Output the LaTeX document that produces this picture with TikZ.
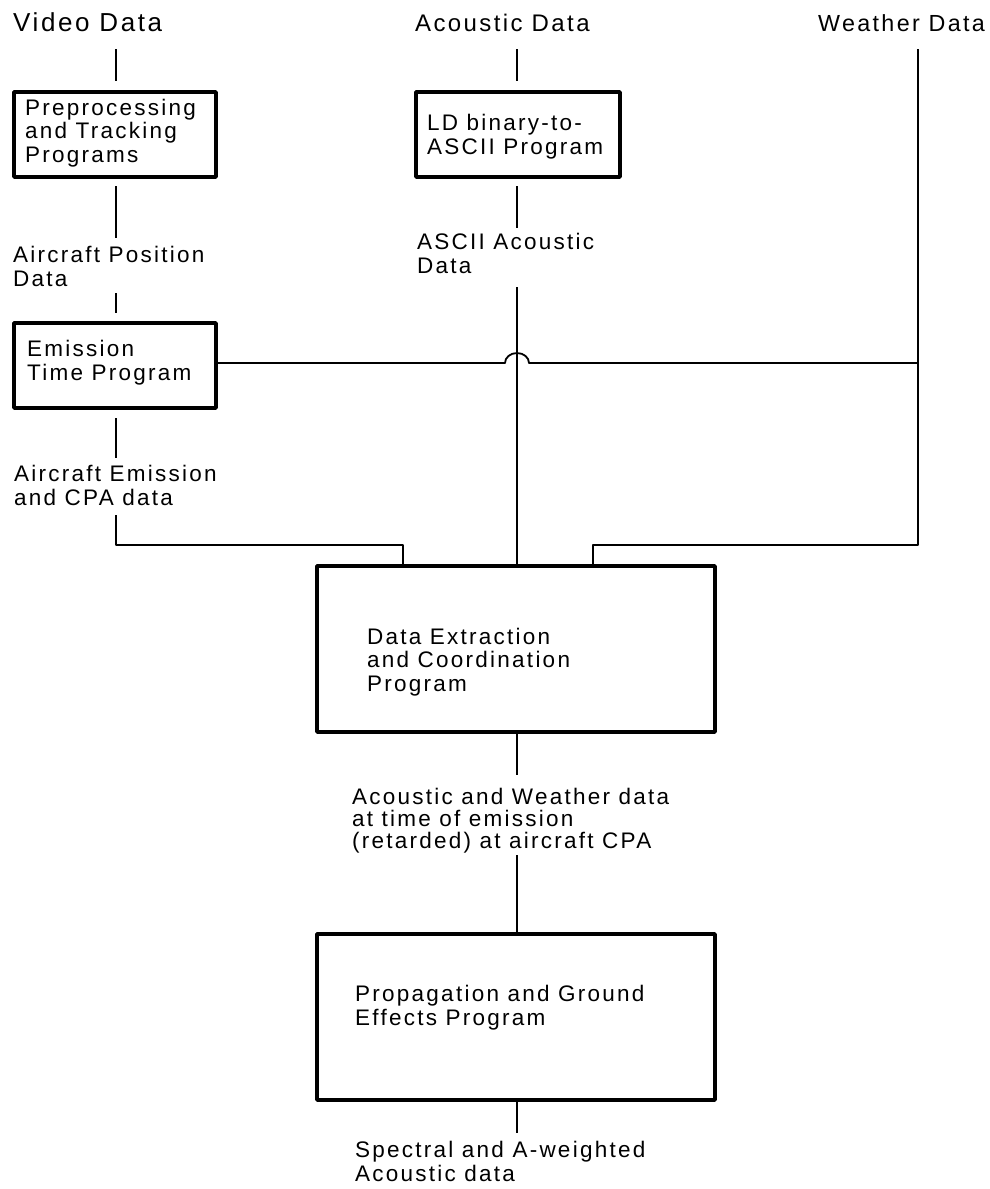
\documentclass[tikz,border=0pt]{standalone}
\usepackage{fontspec}
\setmainfont{Liberation Sans}[LetterSpace=10]
\begin{document}
\begin{tikzpicture}[x=1pt,y=-1pt,line join=round,
  box/.style={draw,line width=3.5pt,inner sep=0,rectangle},
  txt/.style={anchor=base west,inner sep=0,align=left,font=\fontsize{22.5}{23.5}\selectfont},
  head/.style={txt,font=\fontsize{24}{26}\selectfont},
  wire/.style={line width=1.8pt}]
\useasboundingbox (0,0) rectangle (989,1189);
% top labels
\node[head,font=\fontsize{26}{28}\selectfont] (vid) at (13,31) {Video Data};
\node[head] (aco) at (415,31) {Acoustic Data};
\node[head,font=\fontsize{23.3}{26}\selectfont] (wea) at (818,31) {Weather Data};
% boxes
\node[box,minimum width=202pt,minimum height=85pt] (pre) at (115,134.5) {};
\node[box,minimum width=204pt,minimum height=85pt] (ldb) at (518,134.5) {};
\node[box,minimum width=202pt,minimum height=85pt] (emi) at (115,365.5) {};
\node[box,minimum width=398pt,minimum height=166pt] (dec) at (516,649) {};
\node[box,minimum width=398pt,minimum height=166pt] (pge) at (516,1017) {};
% box texts (anchor at baseline of last line)
\node[txt] (preT) at (25,162) {Preprocessing\\and Tracking\\Programs};
\node[txt] (ldbT) at (427,154) {LD binary-to-\\ASCII Program};
\node[txt] (emiT) at (27,380) {Emission\\Time Program};
\node[txt] (decT) at (367,691) {Data Extraction\\and Coordination\\Program};
\node[txt] (pgeT) at (355,1025) {Propagation and Ground\\Effects Program};
% data labels
\node[txt] (apos) at (13,286) {Aircraft Position\\Data};
\node[txt] (asc) at (417,273) {ASCII Acoustic\\Data};
\node[txt] (aem) at (14,505) {Aircraft Emission\\and CPA data};
\node[txt,font=\fontsize{22.5}{22}\selectfont] (awd) at (352,848) {Acoustic and Weather data\\at time of emission\\(retarded) at aircraft CPA};
\node[txt] (spec) at (355,1181) {Spectral and A-weighted\\Acoustic data};
% free ends
\coordinate (vidE) at (116,49);
\coordinate (acoE) at (517,49);
\coordinate (weaE) at (918,49);
\coordinate (aposT) at (116,238);
\coordinate (aposB) at (116,293);
\coordinate (aemT) at (116,458);
\coordinate (aemB) at (116,515);
\coordinate (ascT) at (517,228);
\coordinate (ascB) at (517,287);
\coordinate (awdT) at (517,775);
\coordinate (awdB) at (517,855);
\coordinate (specT) at (517,1133);
\coordinate (jumpL) at (505,363);
\coordinate (jumpR) at (529,363);
% connectors
\draw[wire] (vidE) -- (116,81);
\draw[wire] (acoE) -- (517,81);
\draw[wire] (116,186) -- (aposT);
\draw[wire] (aposB) -- (116,313);
\draw[wire] (116,418) -- (aemT);
\draw[wire] (aemB) -- (116,545) -| (403,566);
\draw[wire] (517,186) -- (ascT);
\draw[wire] (ascB) -- (517,566);
\draw[wire] (weaE) -- (918,545) -| (593,566);
\draw[wire] (216,363) -- (jumpL) arc[start angle=180,end angle=360,x radius=12,y radius=10] -- (918,363);
\draw[wire] (517,732) -- (awdT);
\draw[wire] (awdB) -- (517,934);
\draw[wire] (517,1100) -- (specT);
\end{tikzpicture}
\end{document}
